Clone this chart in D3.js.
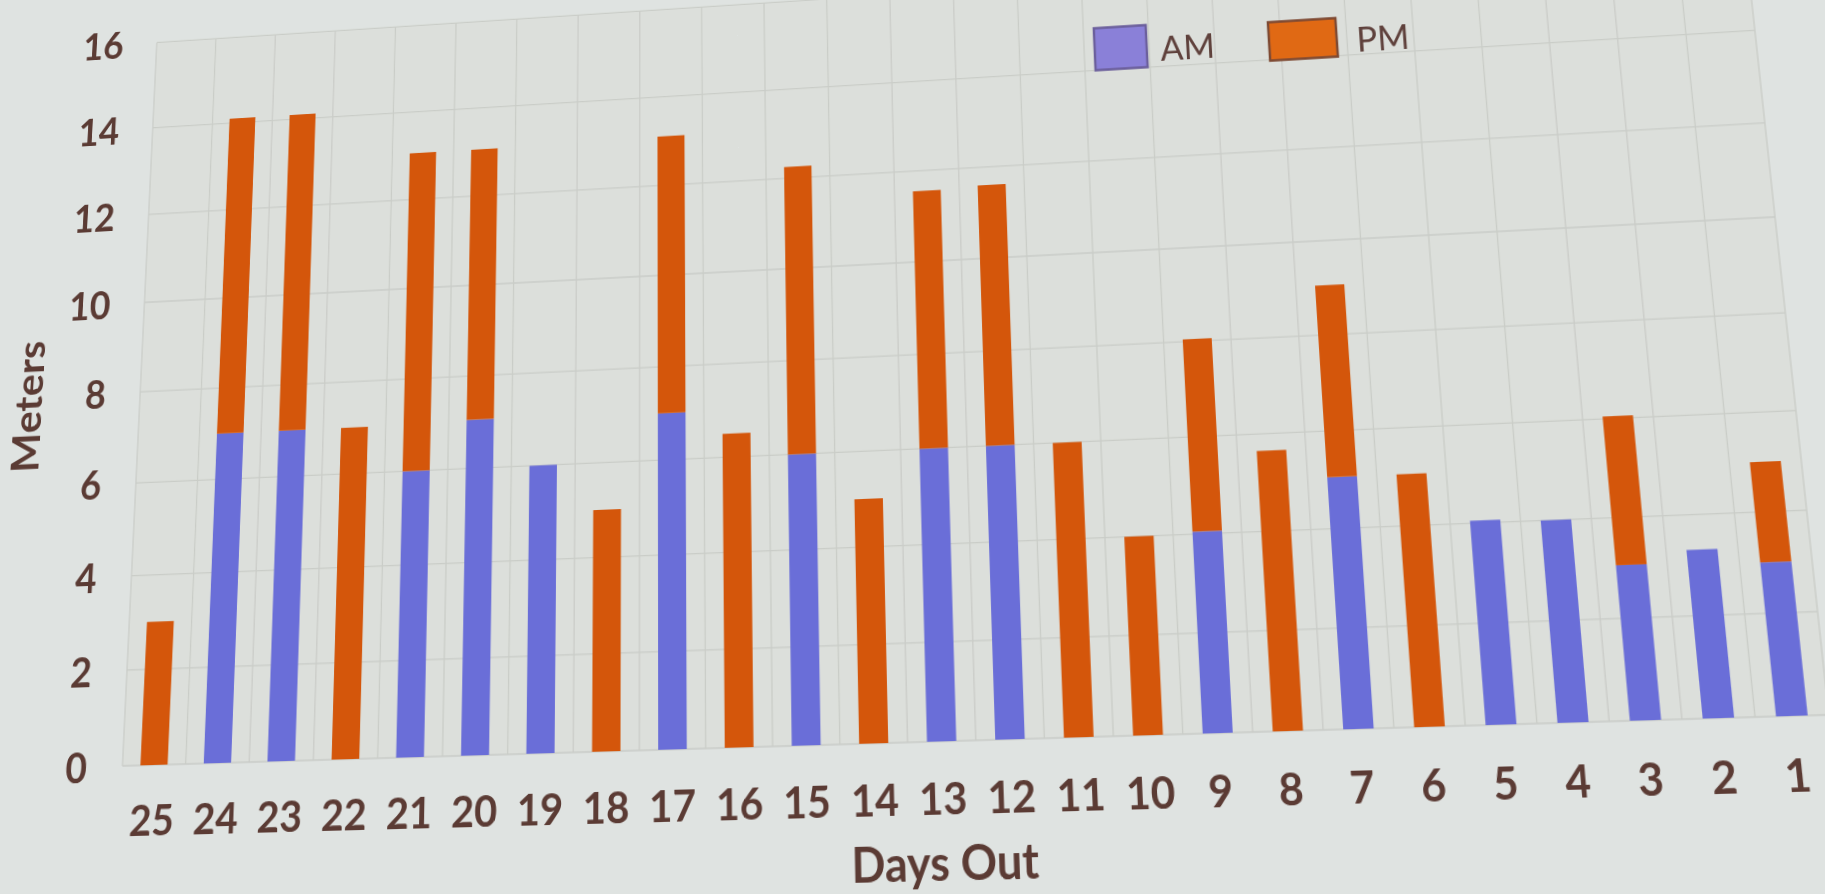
<!DOCTYPE html>
<html>
<head>
<meta charset="utf-8">
<script src="https://cdn.jsdelivr.net/npm/d3@7"></script>
<style>
  html, body { margin: 0; padding: 0; width: 1825px; height: 894px; overflow: hidden; background: #dfe3e1; }
  #stage { position: absolute; left: 0; top: 0; width: 1960px; height: 960px; transform-origin: 0 0; }
  #stage svg { display: block; overflow: visible; }
</style>
</head>
<body>
<div id="stage"></div>
<script>
// Daily distance, split into morning and afternoon sessions
const days      = [25, 24, 23, 22, 21, 20, 19, 18, 17, 16, 15, 14, 13, 12, 11, 10, 9, 8, 7, 6, 5, 4, 3, 2, 1];
const amMeters  = [0, 7.0, 7.0, 0, 6.0, 7.05, 6.0, 0, 7.0, 0, 6.0, 0, 6.0, 6.0, 0, 0, 4.05, 0, 5.05, 0, 4.05, 4.0, 3.05, 3.3, 3.0];
const pmMeters  = [3.0, 7.1, 7.1, 7.0, 7.05, 6.0, 0, 5.0, 6.1, 6.5, 6.25, 5.0, 5.55, 5.6, 6.0, 4.0, 4.0, 5.65, 4.0, 5.05, 0, 0, 3.0, 0, 2.0];
const yTicks    = [0, 2, 4, 6, 8, 10, 12, 14, 16];
const seriesKeys   = ["AM", "PM"];
const seriesColors = ["#6a6ed8", "#d4560b"];
const legendFills   = ["#8a80d8", "#e06914"];
const legendStrokes = ["#6b5f9c", "#7e4a33"];

// Projector keystone: where the foot of the first and last bars and the tops of
// two stacks land on screen; the flat drawing is warped through this homography.
const viewAnchors = [[154, 765], [1792, 716], [242.5, 118], [1329.7, 285]];

const W = 1960, H = 960;
const plot = { left: 170, right: 1860, top: 60.4, bottom: 790 };
const ink = "#5b3b34";
const font = "Lato, 'Open Sans', sans-serif";

const rows = days.map((d, i) => ({ day: d, AM: amMeters[i], PM: pmMeters[i] }));
const stack = d3.stack().keys(seriesKeys)(rows);

const x = d3.scaleBand().domain(days).range([plot.left, plot.right])
  .paddingInner(0.57).paddingOuter(0.285);
const y = d3.scaleLinear().domain([0, 16]).range([plot.bottom, plot.top]);

const svg = d3.select("#stage").append("svg").attr("width", W).attr("height", H);

svg.append("rect").attr("x", -200).attr("y", -200).attr("width", W + 400).attr("height", H + 400)
  .attr("fill", "#dfe3e1");
svg.append("rect").attr("x", plot.left).attr("y", plot.top)
  .attr("width", plot.right - plot.left).attr("height", plot.bottom - plot.top)
  .attr("fill", "#dcdfdb");

// grid
const grid = svg.append("g").attr("stroke", "#cacdc8").attr("stroke-width", 1.3);
grid.selectAll("line.h").data(yTicks).join("line").attr("class", "h")
  .attr("x1", plot.left).attr("x2", plot.right)
  .attr("y1", d => y(d)).attr("y2", d => y(d));
grid.selectAll("line.v").data(d3.range(days.length + 1)).join("line").attr("class", "v")
  .attr("x1", k => plot.left + k * x.step()).attr("x2", k => plot.left + k * x.step())
  .attr("y1", plot.top).attr("y2", plot.bottom);

// stacked bars
svg.append("g").selectAll("g").data(stack).join("g")
  .attr("fill", (s, i) => seriesColors[i])
  .selectAll("rect").data(s => s.filter(d => d[1] > d[0])).join("rect")
  .attr("x", d => x(d.data.day))
  .attr("width", x.bandwidth())
  .attr("y", d => y(d[1]))
  .attr("height", d => y(d[0]) - y(d[1]));

// axes
const yAxis = svg.append("g").attr("transform", `translate(${plot.left},0)`)
  .call(d3.axisLeft(y).tickValues(yTicks).tickSize(0).tickPadding(38));
yAxis.select(".domain").remove();
yAxis.selectAll("text").attr("dy", "0.36em")
  .attr("font-family", font).attr("font-weight", 700)
  .attr("font-size", 40).attr("fill", ink);

const xAxis = svg.append("g").attr("transform", `translate(0,${plot.bottom})`)
  .call(d3.axisBottom(x).tickSize(0).tickPadding(37));
xAxis.select(".domain").remove();
xAxis.selectAll("text")
  .attr("font-family", font).attr("font-weight", 700)
  .attr("font-size", 41).attr("fill", ink);

// axis titles
svg.append("text").attr("x", (plot.left + plot.right) / 2).attr("y", plot.bottom + 125)
  .attr("text-anchor", "middle")
  .attr("font-family", font).attr("font-weight", 700)
  .attr("font-size", 44).attr("fill", ink).text("Days Out");
svg.append("text").attr("transform", `translate(45,${y(7.8)}) rotate(-90)`)
  .attr("text-anchor", "middle").attr("dominant-baseline", "central")
  .attr("font-family", font).attr("font-weight", 700)
  .attr("font-size", 42).attr("fill", ink).text("Meters");

// legend
const legendItems = [
  { key: "AM", x: 1195, cy: 130, w: 54, h: 43, gap: 14 },
  { key: "PM", x: 1375, cy: 133, w: 69, h: 39, gap: 20 }
];
const lg = svg.append("g").selectAll("g").data(legendItems).join("g");
lg.append("rect")
  .attr("x", d => d.x).attr("y", d => d.cy - d.h / 2)
  .attr("width", d => d.w).attr("height", d => d.h)
  .attr("fill", (d, i) => legendFills[i]).attr("stroke", (d, i) => legendStrokes[i]).attr("stroke-width", 2.5);
lg.append("text")
  .attr("x", d => d.x + d.w + d.gap).attr("y", d => d.cy + 2)
  .attr("dominant-baseline", "central")
  .attr("font-family", font).attr("font-size", 35).attr("fill", "#5f413c")
  .text(d => d.key);

// homography from flat drawing coordinates to screen coordinates
function stackTop(day) {
  const i = days.indexOf(day);
  return amMeters[i] + pmMeters[i];
}
const cx = day => x(day) + x.bandwidth() / 2;
const flatPts = [
  [cx(days[0]), y(0)],
  [cx(days[days.length - 1]), y(0)],
  [cx(24), y(stackTop(24))],
  [cx(7), y(stackTop(7))]
];

function solve(A, b) {
  const n = b.length;
  const M = A.map((r, i) => r.concat([b[i]]));
  for (let c = 0; c < n; c++) {
    let p = c;
    for (let r = c + 1; r < n; r++) if (Math.abs(M[r][c]) > Math.abs(M[p][c])) p = r;
    [M[c], M[p]] = [M[p], M[c]];
    for (let r = 0; r < n; r++) {
      if (r === c) continue;
      const f = M[r][c] / M[c][c];
      for (let k = c; k <= n; k++) M[r][k] -= f * M[c][k];
    }
  }
  return M.map((r, i) => r[n] / r[i]);
}
const A = [], b = [];
flatPts.forEach(([u, v], i) => {
  const [X, Y] = viewAnchors[i];
  A.push([u, v, 1, 0, 0, 0, -u * X, -v * X]); b.push(X);
  A.push([0, 0, 0, u, v, 1, -u * Y, -v * Y]); b.push(Y);
});
const [a, bb, c, d, e, f, g, h] = solve(A, b);
document.getElementById("stage").style.transform =
  `matrix3d(${a},${d},0,${g},${bb},${e},0,${h},0,0,1,0,${c},${f},0,1)`;
</script>
</body>
</html>
